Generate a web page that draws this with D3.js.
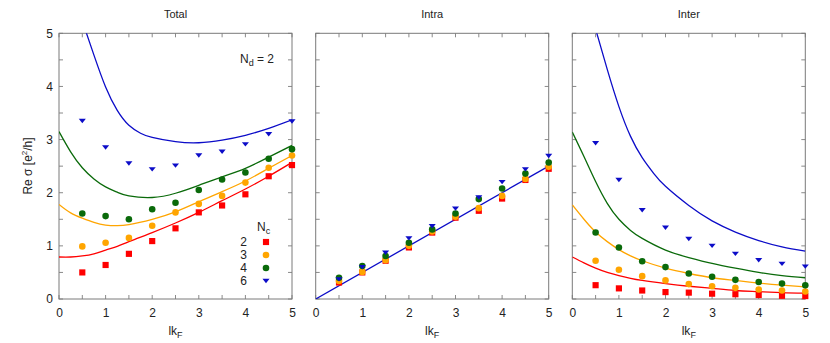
<!DOCTYPE html>
<html><head><meta charset="utf-8">
<script src="https://cdn.jsdelivr.net/npm/d3@7"></script>
<style>body{margin:0;background:#fff}svg{display:block;font-family:"Liberation Sans",Arial,sans-serif}</style>
</head><body>
<svg id="c" width="830" height="343"></svg>
<script>
// ---------- data ----------
const panelTitles = ["Total", "Intra", "Inter"];
const seriesNames = ["2", "3", "4", "6"];
const seriesColors = ["#ff0000", "#ffa500", "#0a6a0a", "#0c0cc8"];
const xTicks = [0, 1, 2, 3, 4, 5];
const yTicks = [0, 1, 2, 3, 4, 5];
const pointX = [0.5, 1, 1.5, 2, 2.5, 3, 3.5, 4, 4.5, 5];

// Total panel points
const totalRed    = [0.50, 0.64, 0.85, 1.09, 1.33, 1.63, 1.76, 1.97, 2.31, 2.52];
const totalOrange = [0.99, 1.06, 1.15, 1.38, 1.63, 1.79, 1.94, 2.19, 2.47, 2.70];
const totalGreen  = [1.61, 1.56, 1.50, 1.69, 1.81, 2.05, 2.25, 2.38, 2.64, 2.82];
const totalBlue   = [3.35, 2.85, 2.55, 2.44, 2.51, 2.70, 2.77, 2.91, 3.10, 3.34];
// Intra panel points
const intraRed    = [0.31, 0.50, 0.72, 0.97, 1.25, 1.53, 1.66, 1.89, 2.24, 2.45];
const intraOrange = [0.34, 0.51, 0.73, 1.00, 1.27, 1.55, 1.71, 1.94, 2.26, 2.49];
const intraGreen  = [0.40, 0.62, 0.81, 1.06, 1.31, 1.61, 1.88, 2.08, 2.36, 2.57];
const intraBlue   = [0.37, 0.60, 0.87, 1.14, 1.37, 1.70, 1.91, 2.20, 2.44, 2.69];
// Inter panel points
const interRed    = [0.26, 0.20, 0.16, 0.13, 0.12, 0.10, 0.09, 0.075, 0.06, 0.055];
const interOrange = [0.72, 0.55, 0.43, 0.35, 0.28, 0.24, 0.21, 0.18, 0.16, 0.14];
const interGreen  = [1.25, 0.97, 0.71, 0.60, 0.48, 0.42, 0.36, 0.32, 0.29, 0.26];
const interBlue   = [2.93, 2.24, 1.67, 1.34, 1.13, 1.00, 0.85, 0.73, 0.66, 0.61];

// curve samples
const lineX  = [0, 0.25, 0.5, 0.75, 1, 1.25, 1.5, 2, 2.5, 3, 3.5, 4, 4.5, 5];
const lineXB = [0.5, 0.75, 1, 1.25, 1.5, 1.75, 2, 2.5, 3, 3.5, 4, 4.5, 5];
const totalLineRed    = [0.79, 0.79, 0.81, 0.85, 0.92, 0.99, 1.08, 1.25, 1.43, 1.63, 1.85, 2.07, 2.31, 2.57];
const totalLineOrange = [1.78, 1.62, 1.52, 1.44, 1.39, 1.38, 1.40, 1.50, 1.64, 1.83, 2.02, 2.22, 2.46, 2.70];
const totalLineGreen  = [3.15, 2.77, 2.47, 2.26, 2.11, 2.01, 1.94, 1.91, 1.99, 2.14, 2.30, 2.46, 2.67, 2.89];
const totalLineBlue   = [5.23, 4.59, 3.99, 3.55, 3.27, 3.12, 3.04, 2.96, 2.94, 2.99, 3.08, 3.21, 3.37];
const intraLineX = [0, 5];
const intraLine  = [0, 2.5];
const interLineRed    = [0.79, 0.68, 0.58, 0.50, 0.44, 0.39, 0.35, 0.29, 0.24, 0.20, 0.16, 0.14, 0.12, 0.11];
const interLineOrange = [1.77, 1.50, 1.26, 1.08, 0.93, 0.81, 0.72, 0.58, 0.48, 0.40, 0.35, 0.30, 0.26, 0.23];
const interLineGreen  = [3.14, 2.68, 2.21, 1.80, 1.50, 1.29, 1.14, 0.92, 0.78, 0.67, 0.58, 0.50, 0.44, 0.40];
const interLineBlue   = [5.08, 4.32, 3.62, 3.06, 2.66, 2.36, 2.12, 1.76, 1.47, 1.26, 1.10, 0.98, 0.90];

// ---------- layout ----------
const svg = d3.select("#c");
const panelLeft = [59, 315.7, 572.3];
const panelW = 233, plotTop = 33.3, plotBottom = 299;
const textColor = "#222";

// flat downward triangle symbol
const triDown = {
  draw(ctx, size) {
    const w = Math.sqrt(size) * 1.25, h = w * 0.62;
    ctx.moveTo(-w / 2, -h / 2);
    ctx.lineTo(w / 2, -h / 2);
    ctx.lineTo(0, h / 2);
    ctx.closePath();
  }
};
const symbols = [d3.symbolSquare, d3.symbolCircle, d3.symbolCircle, triDown];
const symSizes = [38, 34, 34, 32];

const panels = [
  {pts: [totalRed, totalOrange, totalGreen, totalBlue],
   lines: [[lineX, totalLineRed, 0], [lineX, totalLineOrange, 1], [lineX, totalLineGreen, 2], [lineXB, totalLineBlue, 3]]},
  {pts: [intraRed, intraOrange, intraGreen, intraBlue],
   lines: [[intraLineX, intraLine, 3]]},
  {pts: [interRed, interOrange, interGreen, interBlue],
   lines: [[lineX, interLineRed, 0], [lineX, interLineOrange, 1], [lineX, interLineGreen, 2], [lineXB, interLineBlue, 3]]}
];

function symPath(i) {
  return d3.symbol().type(symbols[i]).size(symSizes[i])();
}

panels.forEach((p, k) => {
  const x = d3.scaleLinear().domain([0, 5]).range([panelLeft[k], panelLeft[k] + panelW]);
  const y = d3.scaleLinear().domain([0, 5]).range([plotBottom, plotTop]);
  const g = svg.append("g");
  const clipId = "clip" + k;
  svg.append("clipPath").attr("id", clipId).append("rect")
    .attr("x", x(0)).attr("y", y(5)).attr("width", x(5) - x(0)).attr("height", y(0) - y(5));

  const tickVals = d3.range(0, 5.01, 0.5);
  const tl = 4;
  const tk = g.append("g").attr("stroke", "#8a8a8a").attr("stroke-width", 1);
  tickVals.forEach(v => {
    tk.append("line").attr("x1", x(v)).attr("x2", x(v)).attr("y1", y(0)).attr("y2", y(0) - tl);
    tk.append("line").attr("x1", x(v)).attr("x2", x(v)).attr("y1", y(5)).attr("y2", y(5) + tl);
    tk.append("line").attr("y1", y(v)).attr("y2", y(v)).attr("x1", x(0)).attr("x2", x(0) + tl);
    tk.append("line").attr("y1", y(v)).attr("y2", y(v)).attr("x1", x(5)).attr("x2", x(5) - tl);
  });
  g.append("rect").attr("x", x(0)).attr("y", y(5)).attr("width", x(5) - x(0)).attr("height", y(0) - y(5))
    .attr("fill", "none").attr("stroke", "#7a7a7a").attr("stroke-width", 1);

  const xa = d3.axisBottom(x).tickValues(xTicks).tickSize(0).tickPadding(0).tickFormat(d3.format("d"));
  const xg = g.append("g").attr("transform", `translate(0,${plotBottom + 9})`).call(xa);
  xg.select(".domain").remove();
  xg.selectAll("text").attr("font-size", 12).attr("fill", textColor).attr("dy", "0.71em")
    .attr("font-family", '"Liberation Sans",Arial,sans-serif');
  if (k === 0) {
    const ya = d3.axisLeft(y).tickValues(yTicks).tickSize(0).tickPadding(0).tickFormat(d3.format("d"));
    const yg = g.append("g").attr("transform", `translate(${x(0) - 6},0)`).call(ya);
    yg.select(".domain").remove();
    yg.selectAll("text").attr("font-size", 12).attr("fill", textColor)
      .attr("font-family", '"Liberation Sans",Arial,sans-serif');
  }

  g.append("text").attr("x", (x(0) + x(5)) / 2).attr("y", 18).attr("text-anchor", "middle")
    .attr("font-size", 11).attr("fill", textColor).text(panelTitles[k]);
  const xl = g.append("text").attr("x", (x(0) + x(5)) / 2).attr("y", 335).attr("text-anchor", "middle")
    .attr("font-size", 12).attr("fill", textColor);
  xl.append("tspan").text("lk");
  xl.append("tspan").attr("font-size", 9).attr("dy", 3).text("F");

  const lg = g.append("g").attr("clip-path", `url(#${clipId})`);
  p.lines.forEach(([xs, ys, ci]) => {
    const line = d3.line().x((d, i) => x(xs[i])).y(d => y(d)).curve(d3.curveNatural);
    lg.append("path").attr("d", line(ys)).attr("fill", "none")
      .attr("stroke", seriesColors[ci]).attr("stroke-width", 1.3);
  });

  p.pts.forEach((vals, si) => {
    g.append("g").selectAll("path").data(vals).join("path")
      .attr("d", symPath(si))
      .attr("transform", (d, i) => `translate(${x(pointX[i])},${y(d)})`)
      .attr("fill", seriesColors[si]);
  });
});

const yl = svg.append("text").attr("transform", "translate(32,166) rotate(-90)").attr("text-anchor", "middle")
  .attr("font-size", 12).attr("fill", textColor);
yl.append("tspan").text("Re σ [e");
yl.append("tspan").attr("font-size", 8).attr("dy", -5).text("2");
yl.append("tspan").attr("dy", 5).text("/h]");

const nd = svg.append("text").attr("x", 240).attr("y", 63).attr("font-size", 12).attr("fill", textColor);
nd.append("tspan").text("N");
nd.append("tspan").attr("font-size", 9).attr("dy", 3).text("d");
nd.append("tspan").attr("dy", -3).text(" = 2");

const nc = svg.append("text").attr("x", 257).attr("y", 231).attr("font-size", 12).attr("fill", textColor);
nc.append("tspan").text("N");
nc.append("tspan").attr("font-size", 9).attr("dy", 3).text("c");
const legRowY = [242, 255, 268, 281];
seriesNames.forEach((n, i) => {
  svg.append("text").attr("x", 247).attr("y", legRowY[i]).attr("dy", "0.36em").attr("text-anchor", "end")
    .attr("font-size", 12).attr("fill", textColor).text(n);
  svg.append("path").attr("d", symPath(i))
    .attr("transform", `translate(266,${legRowY[i]})`)
    .attr("fill", seriesColors[i]);
});
</script>
</body></html>
